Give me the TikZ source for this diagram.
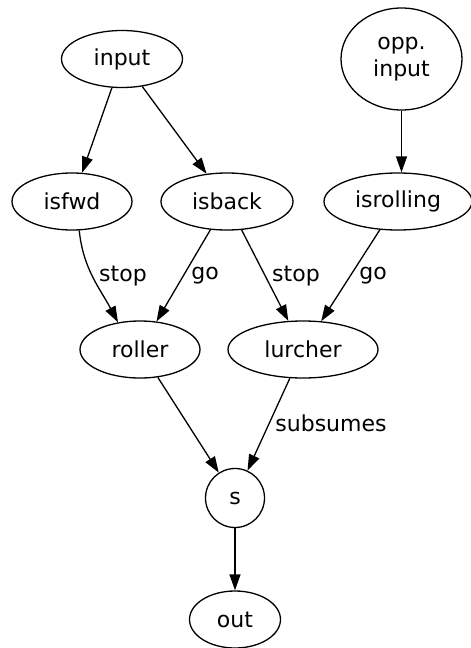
\documentclass[tikz,border=0pt]{standalone}
\usepackage{fontspec}
\setmainfont{DejaVu Sans}
\usetikzlibrary{shapes.geometric,arrows.meta}
\begin{document}
\begin{tikzpicture}[x=0.5pt,y=-0.5pt,
  font=\fontsize{11}{13.5}\selectfont,
  nd/.style={draw,ellipse,inner sep=0pt,line width=0.65pt,minimum height=28.5pt},
  edge/.style={draw,line width=0.65pt,-{Triangle[length=8pt,width=5.5pt]}},
  lbl/.style={inner sep=0pt}]
\useasboundingbox (0,0) rectangle (471,648);
\node[nd,minimum width=60.5pt] (input) at (122,59) {input};
\node[nd,minimum width=60.5pt,minimum height=51pt,align=center] (opp) at (401.5,59) {opp.\\input};
\node[nd,minimum width=60pt] (isfwd) at (72,201.5) {isfwd};
\node[nd,minimum width=66pt] (isback) at (227,201.5) {isback};
\node[nd,minimum width=74pt] (isrolling) at (398,201.5) {isrolling};
\node[nd,minimum width=60pt] (roller) at (140,349.5) {roller};
\node[nd,minimum width=75pt] (lurcher) at (303,349.5) {lurcher};
\node[nd,minimum width=29.5pt,minimum height=29.5pt] (s) at (235,498) {s};
\node[nd,minimum width=45.5pt] (out) at (235,619.5) {out};
\draw[edge] (input) -- (isfwd);
\draw[edge] (input) -- (isback);
\draw[edge] (opp.south) -- (opp.south |- isrolling.north);
\draw[edge] (isfwd.-76) to[out=-84,in=118] (roller.129);
\draw[edge] (isback) -- (roller);
\draw[edge] (isback) -- (lurcher);
\draw[edge] (isrolling) -- (lurcher);
\draw[edge] (roller) -- (s);
\draw[edge] (lurcher) -- (s);
\draw[edge] (s) -- (out);
\node[lbl] (l1) at (123,276) {stop};
\node[lbl] (l2) at (205,276) {go};
\node[lbl] (l3) at (296,276) {stop};
\node[lbl] (l4) at (373,276) {go};
\node[lbl] (l5) at (331,423) {subsumes};
\end{tikzpicture}
\end{document}
